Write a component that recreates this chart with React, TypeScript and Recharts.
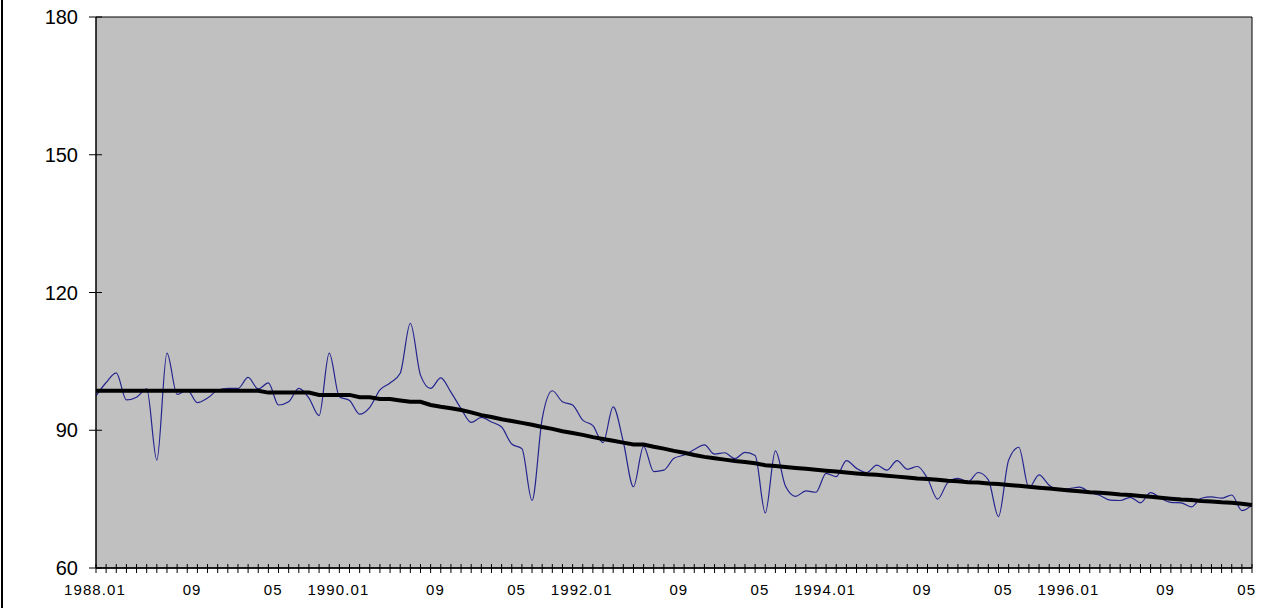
import React from 'react';
import { LineChart, Line, XAxis, YAxis, ReferenceArea } from 'recharts';

const months: string[] = [
  '1988.01','1988.02','1988.03','1988.04','1988.05','1988.06','1988.07','1988.08','1988.09','1988.10','1988.11','1988.12',
  '1989.01','1989.02','1989.03','1989.04','1989.05','1989.06','1989.07','1989.08','1989.09','1989.10','1989.11','1989.12',
  '1990.01','1990.02','1990.03','1990.04','1990.05','1990.06','1990.07','1990.08','1990.09','1990.10','1990.11','1990.12',
  '1991.01','1991.02','1991.03','1991.04','1991.05','1991.06','1991.07','1991.08','1991.09','1991.10','1991.11','1991.12',
  '1992.01','1992.02','1992.03','1992.04','1992.05','1992.06','1992.07','1992.08','1992.09','1992.10','1992.11','1992.12',
  '1993.01','1993.02','1993.03','1993.04','1993.05','1993.06','1993.07','1993.08','1993.09','1993.10','1993.11','1993.12',
  '1994.01','1994.02','1994.03','1994.04','1994.05','1994.06','1994.07','1994.08','1994.09','1994.10','1994.11','1994.12',
  '1995.01','1995.02','1995.03','1995.04','1995.05','1995.06','1995.07','1995.08','1995.09','1995.10','1995.11','1995.12',
  '1996.01','1996.02','1996.03','1996.04','1996.05','1996.06','1996.07','1996.08','1996.09','1996.10','1996.11','1996.12',
  '1997.01','1997.02','1997.03','1997.04','1997.05','1997.06','1997.07',
];

const monthlyValues: number[] = [
  97.5, 100.4, 102.5, 96.6, 97.2, 99.0, 83.5, 106.8, 97.8, 98.8, 96.0, 97.0,
  98.7, 99.1, 99.1, 101.5, 99.0, 100.3, 95.5, 96.2, 99.1, 97.0, 93.2, 106.8,
  97.3, 96.5, 93.5, 95.0, 98.8, 100.3, 102.4, 113.3, 102.0, 99.1, 101.4, 98.3,
  94.7, 91.7, 92.8, 91.8, 90.7, 87.0, 86.0, 74.7, 92.5, 98.6, 96.2, 95.5,
  92.2, 91.0, 87.3, 95.1, 87.5, 77.7, 86.5, 81.0, 81.3, 83.9, 84.6, 85.8,
  86.8, 84.8, 85.1, 83.8, 85.2, 84.5, 72.0, 85.5, 77.8, 75.6, 76.8, 76.5,
  80.6, 79.9, 83.4, 81.7, 80.8, 82.4, 81.3, 83.4, 81.5, 82.1, 79.5, 75.0,
  78.6, 79.5, 78.8, 80.8, 79.2, 71.2, 83.5, 86.3, 77.5, 80.3, 78.0, 77.0,
  77.3, 77.6, 76.5, 75.8, 74.8, 74.7, 75.4, 74.2, 76.4, 75.2, 74.3, 74.2,
  73.3, 75.2, 75.5, 75.2, 75.9, 72.5, 73.7,
];

const trendValues: number[] = [
  98.6, 98.6, 98.6, 98.6, 98.6, 98.6, 98.6, 98.6, 98.6, 98.6, 98.6, 98.6,
  98.6, 98.6, 98.6, 98.6, 98.6, 98.2, 98.2, 98.2, 98.2, 98.2, 97.7, 97.7,
  97.7, 97.7, 97.2, 97.2, 96.8, 96.8, 96.5, 96.2, 96.2, 95.5, 95.1, 94.8,
  94.4, 93.9, 93.3, 92.9, 92.4, 92.0, 91.6, 91.2, 90.7, 90.3, 89.8, 89.4,
  89.0, 88.5, 88.1, 87.7, 87.3, 86.9, 86.9, 86.4, 86.0, 85.5, 85.1, 84.6,
  84.2, 83.9, 83.6, 83.3, 83.1, 82.8, 82.4, 82.2, 82.0, 81.8, 81.6, 81.4,
  81.2, 81.0, 80.8, 80.6, 80.4, 80.3, 80.1, 79.9, 79.7, 79.5, 79.4, 79.2,
  79.0, 78.9, 78.7, 78.6, 78.4, 78.3, 78.1, 77.9, 77.7, 77.5, 77.3, 77.1,
  76.9, 76.7, 76.5, 76.4, 76.2, 76.0, 75.9, 75.7, 75.5, 75.3, 75.1, 74.9,
  74.8, 74.6, 74.5, 74.3, 74.2, 74.0, 73.7,
];

const yTicks: number[] = [60, 90, 120, 150, 180];
const LABEL_EVERY = 8;

const data = months.map((m, i) => ({ label: m, value: monthlyValues[i], trend: trendValues[i] }));

const FONT = '"Liberation Sans", Arial, sans-serif';

const XTick = (props: any) => {
  const { x, y, payload } = props;
  const label = String(payload.value);
  const idx = months.indexOf(label);
  const axisY = y;
  const mo = label.split('.')[1];
  const isJan = mo === '01';
  const text = isJan ? label : mo;
  const dx = isJan ? -1 : 15;
  return (
    <g>
      <line x1={x} x2={x} y1={axisY - 4} y2={axisY + 5} stroke="#000" strokeWidth={1} />
      {idx % LABEL_EVERY === 0 && (
        <text
          x={x + dx}
          y={axisY + 27}
          textAnchor="middle"
          fontFamily={FONT}
          fontSize={15}
          letterSpacing={1.1}
          fill="#000"
        >
          {text}
        </text>
      )}
    </g>
  );
};

const YTick = (props: any) => {
  const { x, y, payload } = props;
  return (
    <g>
      <line x1={x - 7} x2={x + 6} y1={y} y2={y} stroke="#000" strokeWidth={1} />
      <text x={x - 18} y={y} dy="0.36em" textAnchor="end" fontFamily={FONT} fontSize={20} fill="#000">
        {payload.value}
      </text>
    </g>
  );
};

export default function App() {
  return (
    <div style={{ position: 'absolute', left: 0, top: 0, width: 1262, height: 608, background: '#fff' }}>
      <div style={{ position: 'absolute', left: 1, top: 0, width: 2, height: 608, background: '#000' }} />
      <LineChart
        width={1262}
        height={608}
        data={data}
        margin={{ top: 17, right: 10, bottom: 0, left: 0 }}
      >
        <ReferenceArea
          x1={months[0]}
          x2={months[months.length - 1]}
          y1={60}
          y2={180}
          fill="#C0C0C0"
          fillOpacity={1}
          stroke="#000"
          strokeWidth={1}
          ifOverflow="visible"
        />
        <XAxis
          dataKey="label"
          scale="point"
          interval={0}
          height={40}
          padding={{ left: 0, right: 0 }}
          tickSize={0}
          tickMargin={0}
          tickLine={false}
          tick={<XTick />}
          axisLine={{ stroke: '#000', strokeWidth: 1.5 }}
        />
        <YAxis
          type="number"
          domain={[60, 180]}
          ticks={yTicks}
          interval={0}
          width={96}
          tickSize={0}
          tickMargin={0}
          tickLine={false}
          tick={<YTick />}
          axisLine={{ stroke: '#000', strokeWidth: 1 }}
        />
        <Line
          type="monotone"
          dataKey="value"
          stroke="#24248F"
          strokeWidth={1.2}
          dot={false}
          activeDot={false}
          isAnimationActive={false}
        />
        <Line
          type="linear"
          dataKey="trend"
          stroke="#000"
          strokeWidth={4}
          dot={false}
          activeDot={false}
          isAnimationActive={false}
        />
      </LineChart>
    </div>
  );
}
